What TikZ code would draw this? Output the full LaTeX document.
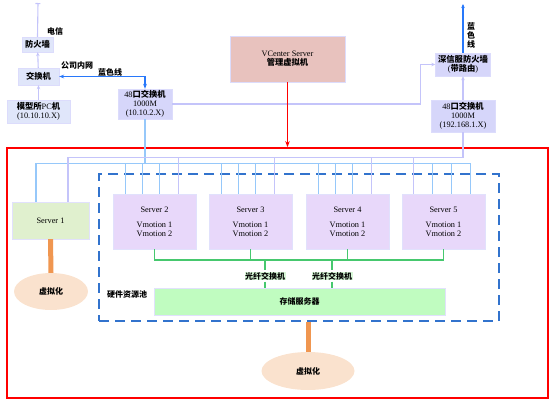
\documentclass[tikz,border=0pt]{standalone}
\usepackage{fontspec}
\setmainfont{Liberation Serif}
\newfontfamily\cjk{Noto Sans CJK SC}
\usetikzlibrary{arrows.meta,shapes.geometric}
\definecolor{lavline}{RGB}{196,196,250}
\definecolor{lblue}{RGB}{150,200,250}
\definecolor{boxbl}{RGB}{224,230,250}
\definecolor{boxsw}{RGB}{214,214,250}
\definecolor{srvfill}{RGB}{232,216,250}
\definecolor{srvone}{RGB}{224,240,206}
\definecolor{storfill}{RGB}{192,252,192}
\definecolor{fcfill}{RGB}{214,246,214}
\definecolor{vcfill}{RGB}{232,194,190}
\definecolor{peach}{RGB}{250,226,206}
\definecolor{orng}{RGB}{240,150,80}
\definecolor{dashbl}{RGB}{50,115,205}
\definecolor{linkbl}{RGB}{40,120,250}
\definecolor{fcg}{RGB}{70,200,110}
\tikzset{
  txt/.style={font=\fontsize{8.3}{9}\selectfont, text=black, align=center, inner sep=1pt},
  cn/.style={txt, font=\cjk\bfseries\fontsize{8}{9}\selectfont},
  lbox/.style={draw=lavline!60, fill=boxbl, txt},
  swbox/.style={draw=lavline!60, fill=boxsw, txt},
  srvbox/.style={draw=lavline!50, fill=srvfill, txt, minimum width=83, minimum height=55},
  lav/.style={draw=lavline, line width=1.1},
  bus/.style={draw=lblue, line width=1.1},
  virt/.style={ellipse, fill=peach, cn},
  tip/.style={-{Stealth[length=4pt,width=3.5pt]}}
}
\begin{document}
\begin{tikzpicture}[x=1pt, y=-1pt]
      \useasboundingbox (0,0) rectangle (555,405);
      % outer frames
      \node[draw=red, line width=1.8, minimum width=541, minimum height=250] (hall) at (277.5,273) {};
      \node[draw=dashbl, line width=1.9, dash pattern=on 10pt off 6pt, minimum width=400, minimum height=147] (pool) at (299,247.5) {};
      % left: office network
      \coordinate (tel) at (38,3);
      \node[lbox, minimum width=31, minimum height=15] (fw) at (37.5,44.5) {\cjk\bfseries 防火墙};
      \node[lbox, minimum width=41, minimum height=17] (sw) at (38.5,76.5) {\cjk\bfseries 交换机};
      \node[lbox, minimum width=63, minimum height=23] (pc) at (38.5,111.5) {{\cjk\bfseries 模型所}PC{\cjk\bfseries 机}\\(10.10.10.X)};
      \node[cn] (telL) at (55,31) {电信};
      \node[cn] (lanL) at (77,65) {公司内网};
      \node[cn] (blueL) at (110,72) {蓝色线};
      \node[swbox, minimum width=54, minimum height=30] (swa) at (145,104) {48{\cjk\bfseries 口交换机}\\1000M\\(10.10.2.X)};
      % vcenter
      \node[draw=lavline!60, fill=vcfill, txt, minimum width=115, minimum height=46] (vc) at (287.5,59) {VCenter Server\\{\cjk\bfseries 管理虚拟机}};
      % right: internet side
      \coordinate (net) at (463,4);
      \node[swbox, minimum width=55, minimum height=23] (sxf) at (463,64.5) {{\cjk\bfseries 深信服防火墙}\\({\cjk\bfseries 带路由})};
      \node[cn] (blueV) at (471,35) {蓝\\色\\线};
      \node[swbox, minimum width=64, minimum height=32] (swb) at (463,116) {48{\cjk\bfseries 口交换机}\\1000M\\(192.168.1.X)};
      % servers
      \node[draw=lavline!50, fill=srvone, txt, minimum width=77, minimum height=37] (s1) at (50.5,220.5) {Server 1};
      \foreach \n/\x in {2/154.5,3/250.5,4/347.5,5/443.5}
        \node[srvbox] (s\n) at (\x,221.5) {Server \n\\[6pt]Vmotion 1\\Vmotion 2};
      \node[cn] (fc1) at (265,276) {\fboxsep=0.5pt\colorbox{fcfill}{光纤交换机}};
      \node[cn] (fc2) at (332,276) {\fboxsep=0.5pt\colorbox{fcfill}{光纤交换机}};
      \node[draw=lavline!50, fill=storfill, cn, minimum width=291, minimum height=27] (store) at (299.5,301.5) {存储服务器};
      \node[cn] (poolL) at (127,294) {硬件资源池};
      \node[virt, minimum width=74, minimum height=37] (v1) at (51,291.5) {虚拟化};
      \node[virt, minimum width=93, minimum height=38] (v2) at (308,371) {虚拟化};

      % connectors
      \draw[lav, {Bar[width=5pt]}-] (tel) -- (fw.north);
      \draw[lav, tip] (sw) -- (fw);
      \draw[lav, tip] (pc) -- (sw);
      \draw[linkbl, line width=1.4, {Stealth[length=5pt]}-{Stealth[length=5pt]}] (sw.east) -| (swa.north);
      \draw[lav, tip] (swa.east) -- ++(248,0) |- (sxf.west);
      \draw[linkbl, line width=1.4, tip] (sxf.north) -- (net);
      \draw[lav, tip] (swb) -- (sxf);
      \draw[red, line width=1.8, -{Stealth[length=6pt]}] (vc.south) -- (vc.south |- hall.north);
      % network buses
      \draw[lblue, line width=2.8] (swa.south) -- ++(0,45);
      \draw[bus] ([xshift=-14.5pt]s1.north) -- ++(0,-38) -| ([xshift=27pt]s5.north);
      \draw[lav] (swb.south) -- ++(0,25) -| ([xshift=17.5pt]s1.north);
      \foreach \n in {2,3,4} {
        \foreach \d in {-29,-12,5}
          \draw[bus] ([xshift=\d pt]s\n.north) -- ++(0,-30);
        \draw[lav] ([xshift=24pt]s\n.north) -- ++(0,-37);
      }
      \foreach \d in {-11,8}
        \draw[bus] ([xshift=\d pt]s5.north) -- ++(0,-30);
      \draw[lav] ([xshift=-30pt]s5.north) -- ++(0,-37);
      % fibre channel
      \coordinate (gbus) at (0,260);
      \draw[fcg, line width=1.2] (s2.south) |- (gbus -| s5.south) -- (s5.south);
      \draw[fcg, line width=1.2] (s3.south) -- (s3.south |- gbus);
      \draw[fcg, line width=1.2] (s4.south) -- (s4.south |- gbus);
      \draw[fcg, line width=1.2] (fc1.north |- gbus) -- (fc1.north);
      \draw[fcg, line width=1.2] (fc1.south) -- (fc1.south |- store.north);
      \draw[fcg, line width=1.2] (fc2.north |- gbus) -- (fc2.north);
      \draw[fcg, line width=1.2] (fc2.south) -- (fc2.south |- store.north);
      % virtualisation
      \draw[orng, line width=5] (s1.south) -- (v1.north);
      \draw[orng, line width=5] (v2.north |- pool.south) -- (v2.north);
    \end{tikzpicture}
\end{document}
